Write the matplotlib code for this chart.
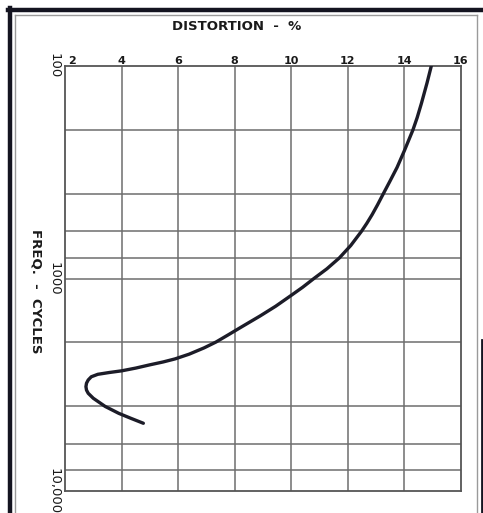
import matplotlib.pyplot as plt
from matplotlib.lines import Line2D

# distortion vs. frequency
freq = [100, 120, 150, 175, 200, 250, 300, 350, 400, 450, 500, 550, 600,
        700, 800, 900, 1000, 1100, 1200, 1350, 1500, 1690, 1845, 1990, 2120,
        2270, 2390, 2470, 2550, 2640, 2720, 2770, 2824, 2900, 3003, 3110,
        3229, 3350, 3468, 3661, 4000, 4310, 4550, 4800]
distortion = [14.95, 14.8, 14.6, 14.45, 14.3, 14.0, 13.74, 13.48, 13.25,
              13.05, 12.86, 12.67, 12.48, 12.1, 11.7, 11.26, 10.8, 10.4, 10.0,
              9.45, 8.9, 8.24, 7.76, 7.34, 6.92, 6.39, 5.89, 5.47, 4.99, 4.5,
              4.0, 3.56, 3.16, 2.93, 2.82, 2.76, 2.74, 2.76, 2.82, 3.0, 3.42,
              3.9, 4.33, 4.77]

x_ticks = [2, 4, 6, 8, 10, 12, 14, 16]
y_grid = [200, 400, 600, 800, 1000, 2000, 4000, 6000, 8000]
y_ticks = [100, 1000, 10000]
y_ticklabels = ['100', '1000', '10,000']

W, H = 483, 513
fig = plt.figure(figsize=(W / 100, H / 100), dpi=100)
fig.patch.set_facecolor('white')

ax = fig.add_axes([65 / W, 1 - 491 / H, (461 - 65) / W, (491 - 66) / H])
ax.set_yscale('log')
ax.set_xlim(2, 16)
ax.set_ylim(10000, 100)

grid_col = '#6e6e6e'
for xv in x_ticks[1:-1]:
    ax.axvline(xv, color=grid_col, lw=1.1, zorder=1)
for yv in y_grid:
    ax.axhline(yv, color=grid_col, lw=1.1, zorder=1)

ax.plot(distortion, freq, color='#1c1c28', lw=2.4, solid_capstyle='round',
        solid_joinstyle='round', zorder=3)

for s in ax.spines.values():
    s.set_color('#555555')
    s.set_linewidth(1.3)

ax.set_xticks([])
ax.minorticks_off()
ax.set_yticks(y_ticks)
ax.set_yticklabels(y_ticklabels, rotation=270, va='center', ha='center',
                   fontsize=9.5, color='#1a1a1a')
ax.tick_params(axis='y', length=0, pad=8)

# distortion scale along the top
for xv in x_ticks:
    if xv == 2:
        ax.text(2.12, 100, str(xv), ha='left', va='bottom', fontsize=8,
                fontweight='bold', color='#1a1a1a')
    else:
        ax.text(xv, 100, str(xv), ha='center', va='bottom', fontsize=8,
                fontweight='bold', color='#1a1a1a')

fig.text(237 / W, 1 - 26 / H, 'DISTORTION  -  %', ha='center', va='center',
         fontsize=9.5, fontweight='bold', color='#1a1a1a')
fig.text(36 / W, 1 - 291 / H, 'FREQ.  -  CYCLES', ha='center', va='center',
         rotation=270, fontsize=9.5, fontweight='bold', color='#1a1a1a')

# page border
def fline(xs, ys, **kw):
    fig.add_artist(Line2D([x / W for x in xs], [1 - y / H for y in ys],
                          transform=fig.transFigure, **kw))

fline([9.5, 9.5], [8, 513], color='#141420', lw=3.2)
fline([8, 483], [9.5, 9.5], color='#141420', lw=3.2)
fline([15, 15], [15, 513], color='#9a9a9a', lw=1)
fline([15, 477], [15, 15], color='#9a9a9a', lw=1)
fline([477, 477], [15, 513], color='#9a9a9a', lw=1)
fline([482, 482], [340, 513], color='#141420', lw=2)

fig.savefig('out.png', dpi=100, facecolor='white')
